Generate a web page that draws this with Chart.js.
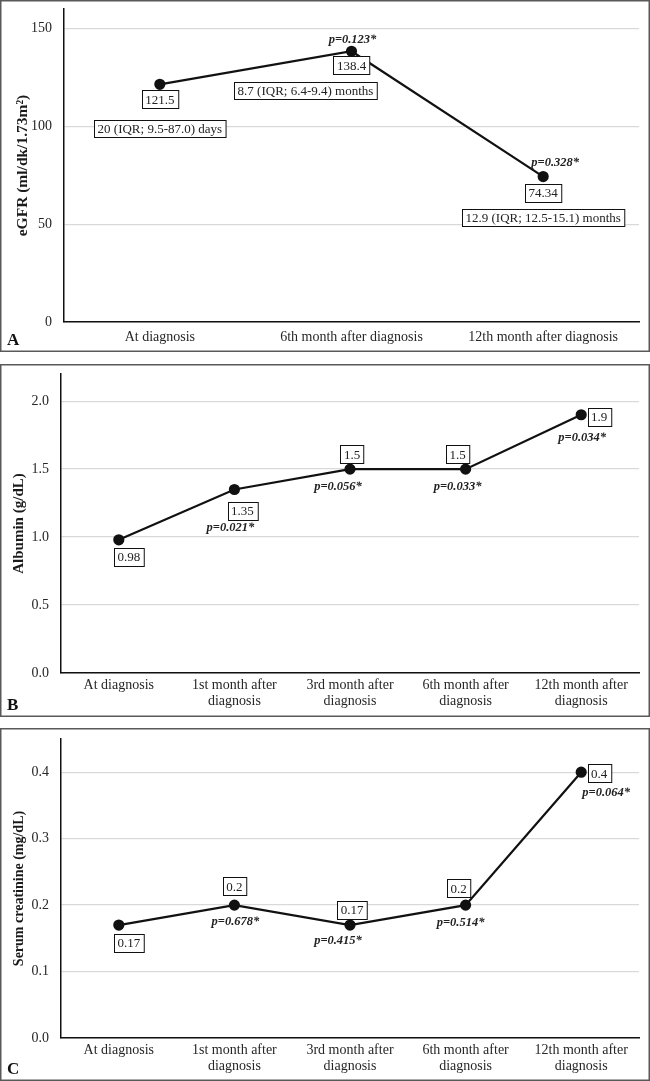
<!DOCTYPE html>
<html>
<head>
<meta charset="utf-8">
<script src="https://cdn.jsdelivr.net/npm/chart.js@4.4.1/dist/chart.umd.min.js"></script>
<style>
  html, body { margin: 0; padding: 0; background: #fff; }
  body { width: 650px; height: 1081px; position: relative; overflow: hidden; }
  .panel { position: absolute; left: 0; width: 650px; }
  .panel canvas { display: block; }
</style>
</head>
<body>
<div class="panel" style="top:0;height:352px"><canvas id="chartA"></canvas></div>
<div class="panel" style="top:364px;height:353px"><canvas id="chartB"></canvas></div>
<div class="panel" style="top:728px;height:353px"><canvas id="chartC"></canvas></div>
<script>
// panel A - eGFR
const egfrLabels = ['At diagnosis', '6th month after diagnosis', '12th month after diagnosis'];
const egfrValues = [121.5, 138.4, 74.34];
const egfrPValues = [null, 'p=0.123*', 'p=0.328*'];
const egfrDurations = ['20 (IQR; 9.5-87.0) days', '8.7 (IQR; 6.4-9.4) months', '12.9 (IQR; 12.5-15.1) months'];
const egfrTicks = [0, 50, 100, 150];

// panels B and C share the follow-up time points
const followLabels = [
  ['At diagnosis'],
  ['1st month after', 'diagnosis'],
  ['3rd month after', 'diagnosis'],
  ['6th month after', 'diagnosis'],
  ['12th month after', 'diagnosis']
];
const albuminValues = [0.98, 1.35, 1.5, 1.5, 1.9];
const albuminPValues = [null, 'p=0.021*', 'p=0.056*', 'p=0.033*', 'p=0.034*'];
const albuminTicks = [0, 0.5, 1.0, 1.5, 2.0];

const creatinineValues = [0.17, 0.2, 0.17, 0.2, 0.4];
const creatininePValues = [null, 'p=0.678*', 'p=0.415*', 'p=0.514*', 'p=0.064*'];
const creatinineTicks = [0, 0.1, 0.2, 0.3, 0.4];

const FONT = '"Liberation Serif", "Times New Roman", Times, serif';
Chart.defaults.font.family = FONT;
Chart.defaults.color = '#262626';

function drawBox(ctx, text, cx, cy, h) {
  ctx.font = '13px ' + FONT;
  const w = ctx.measureText(text).width + 7;
  const x = Math.round(cx - w / 2) + 0.5;
  const y = Math.round(cy - h / 2) + 0.5;
  ctx.fillStyle = '#fff';
  ctx.fillRect(x, y, w, h);
  ctx.strokeStyle = '#111';
  ctx.lineWidth = 1;
  ctx.strokeRect(x, y, w, h);
  ctx.fillStyle = '#222';
  ctx.textAlign = 'center';
  ctx.textBaseline = 'middle';
  ctx.fillText(text, cx, cy + 1);
}

function makeDecor(cfg) {
  return {
    id: 'decor',
    afterDatasetsDraw(chart) {
      const ctx = chart.ctx;
      const pts = chart.getDatasetMeta(0).data;
      const vals = chart.data.datasets[0].data;
      ctx.save();
      pts.forEach((pt, i) => {
        if (cfg.notes && cfg.notes[i]) {
          const o = cfg.noteOffsets[i];
          drawBox(ctx, cfg.notes[i], pt.x + o[0], pt.y + o[1], 17);
        }
        const vo = cfg.valueOffsets[i];
        drawBox(ctx, String(vals[i]), pt.x + vo[0], pt.y + vo[1], 18);
        if (cfg.pValues[i]) {
          const po = cfg.pOffsets[i];
          ctx.font = 'italic bold 12.5px ' + FONT;
          ctx.fillStyle = '#222';
          ctx.textAlign = 'center';
          ctx.textBaseline = 'middle';
          ctx.fillText(cfg.pValues[i], pt.x + po[0], pt.y + po[1]);
        }
      });
      ctx.restore();
    },
    afterDraw(chart) {
      const ctx = chart.ctx;
      const w = chart.width, h = chart.height;
      ctx.save();
      ctx.strokeStyle = '#595959';
      ctx.lineWidth = 1.5;
      ctx.strokeRect(0.75, 0.75, w - 1.5, h - 1.5);
      ctx.font = 'bold 17px ' + FONT;
      ctx.fillStyle = '#111';
      ctx.textAlign = 'left';
      ctx.textBaseline = 'alphabetic';
      ctx.fillText(cfg.letter, 7, h - 7);
      ctx.restore();
    }
  };
}

function makeChart(id, cfg) {
  return new Chart(document.getElementById(id), {
    type: 'line',
    data: {
      labels: cfg.labels,
      datasets: [{
        data: cfg.values,
        borderColor: '#111',
        borderWidth: 2.2,
        pointRadius: 4.5,
        pointHoverRadius: 4.5,
        pointBackgroundColor: '#111',
        pointBorderColor: '#111',
        tension: 0,
        clip: false
      }]
    },
    options: {
      responsive: true,
      maintainAspectRatio: false,
      animation: false,
      events: [],
      layout: { padding: { top: cfg.area.top, left: 0, right: 11, bottom: 0 } },
      plugins: { legend: { display: false }, tooltip: { enabled: false } },
      scales: {
        x: {
          offset: true,
          grid: { display: false, drawTicks: false },
          border: { display: true, color: '#111', width: 1.5 },
          ticks: {
            color: '#262626',
            padding: cfg.xPad,
            maxRotation: 0,
            autoSkip: false,
            font: { size: 14, lineHeight: 1.15 }
          },
          afterFit(scale) {
            scale.height = scale.chart.height - cfg.area.bottom;
            scale.paddingLeft = 0;
            scale.paddingRight = 0;
          }
        },
        y: {
          min: 0,
          max: cfg.max,
          grid: { color: '#d9d9d9', lineWidth: 1.3, drawTicks: false },
          border: { display: true, color: '#111', width: 1.5 },
          ticks: {
            color: '#262626',
            padding: 12,
            font: { size: 14 },
            callback: v => cfg.decimals ? Number(v).toFixed(cfg.decimals) : String(v)
          },
          afterBuildTicks(scale) { scale.ticks = cfg.ticks.map(v => ({ value: v })); },
          title: {
            display: true,
            text: cfg.title,
            color: '#1a1a1a',
            font: { size: cfg.titleSize, weight: 'bold' },
            padding: { top: cfg.titlePad, bottom: 0 }
          },
          afterFit(scale) {
            scale.width = cfg.area.left;
            scale.paddingTop = 0;
            scale.paddingBottom = 0;
          }
        }
      }
    },
    plugins: [makeDecor(cfg)]
  });
}

makeChart('chartA', {
  labels: egfrLabels, values: egfrValues, pValues: egfrPValues, notes: egfrDurations,
  ticks: egfrTicks, max: 160, decimals: 0, letter: 'A',
  title: 'eGFR (ml/dk/1.73m²)', titleSize: 15.5,
  area: { top: 9, left: 64, bottom: 322 }, xPad: 7, titlePad: 14,
  valueOffsets: [[0, 15], [0, 14], [0, 16]],
  noteOffsets: [[0, 44], [-46, 39], [0, 41]],
  pOffsets: [null, [1, -11], [12, -14]]
});

makeChart('chartB', {
  labels: followLabels, values: albuminValues, pValues: albuminPValues,
  ticks: albuminTicks, max: 2.2, decimals: 1, letter: 'B',
  title: 'Albumin (g/dL)', titleSize: 15,
  area: { top: 10, left: 61, bottom: 309 }, xPad: 4, titlePad: 10,
  valueOffsets: [[10, 17], [8, 21], [2, -15], [-8, -15], [18, 2]],
  pOffsets: [null, [-4, 38], [-12, 18], [-8, 18], [1, 23]]
});

makeChart('chartC', {
  labels: followLabels, values: creatinineValues, pValues: creatininePValues,
  ticks: creatinineTicks, max: 0.45, decimals: 1, letter: 'C',
  title: 'Serum creatinine (mg/dL)', titleSize: 14,
  area: { top: 11, left: 61, bottom: 310 }, xPad: 4, titlePad: 11,
  valueOffsets: [[10, 18], [0, -19], [2, -15], [-7, -17], [18, 1]],
  pOffsets: [null, [1, 17], [-12, 16], [-5, 18], [25, 21]]
});
</script>
</body>
</html>
